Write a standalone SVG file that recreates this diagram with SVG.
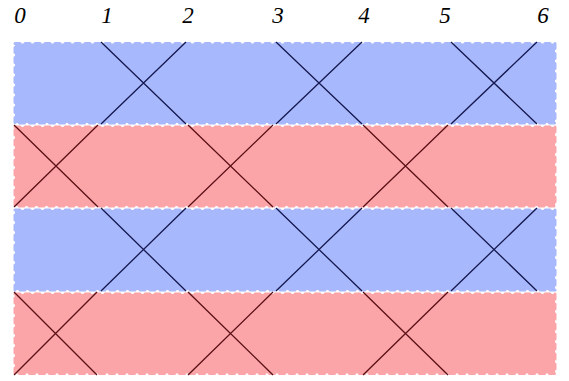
<svg xmlns="http://www.w3.org/2000/svg" width="569" height="381" viewBox="0 0 569 381">
<style>
.lbl{font-family:"Liberation Serif","DejaVu Serif",serif;font-style:italic;font-size:23px;fill:#000;text-anchor:middle}
.blue{fill:#a8b8fc;stroke:#a8b8fc}
.red{fill:#fca5a9;stroke:#fca5a9}
.band{stroke-width:3;stroke-dasharray:5 5;stroke-linecap:round}
.lb{stroke:#14184f;stroke-width:1.3;fill:none}
.lr{stroke:#5a1014;stroke-width:1.3;fill:none}
</style>
<rect width="569" height="381" fill="#fff"/>
<g id="labels">
<text class="lbl" x="20" y="23">0</text>
<text class="lbl" x="107" y="23">1</text>
<text class="lbl" x="188" y="23">2</text>
<text class="lbl" x="278" y="23">3</text>
<text class="lbl" x="364" y="23">4</text>
<text class="lbl" x="445" y="23">5</text>
<text class="lbl" x="543" y="23">6</text>
</g>
<g id="band1"><rect class="band blue" x="15" y="43.5" width="540" height="79.5"/></g>
<g id="band2"><rect class="band red" x="15" y="127" width="540" height="79"/></g>
<g id="band3"><rect class="band blue" x="15" y="210" width="540" height="80"/></g>
<g id="band4"><rect class="band red" x="15" y="294" width="540" height="79.5"/></g>
<g id="connectors">
<path class="lb" d="M101 42L186 124M186 42L101 124M276 42L362 124M362 42L276 124M451 42L537 124M537 42L451 124"/>
<path class="lr" d="M14 125L98 207M98 125L14 207M188 125L273 207M273 125L188 207M363 125L448 207M448 125L363 207"/>
<path class="lb" d="M101 208L186 291M186 208L101 291M276 208L362 291M362 208L276 291M451 208L537 291M537 208L451 291"/>
<path class="lr" d="M14 292L97 375M97 292L14 375M188 292L273 375M273 292L188 375M363 292L448 375M448 292L363 375"/>
</g>
</svg>
